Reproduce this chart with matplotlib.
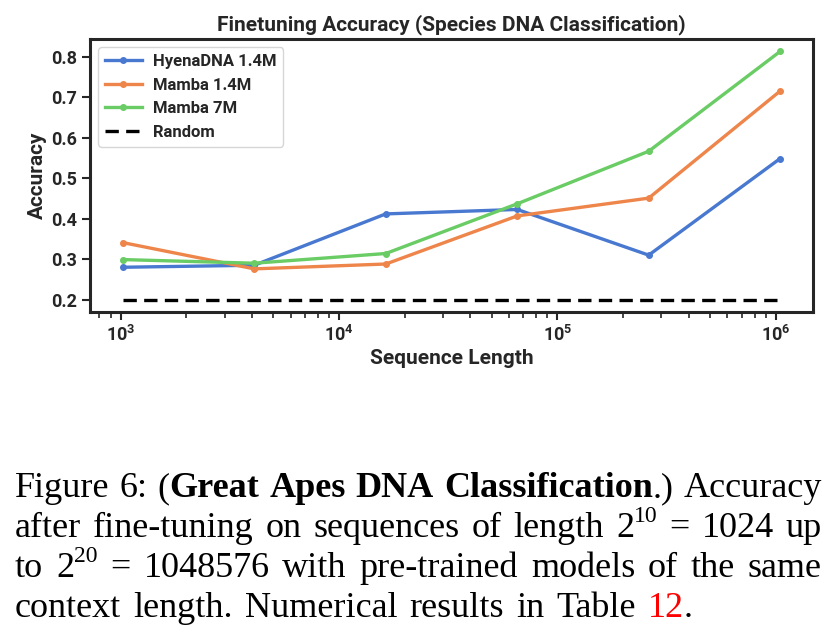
import numpy as np
import matplotlib
matplotlib.use("Agg")
import matplotlib.pyplot as plt

# sequence lengths 2^10 ... 2^20
seq_len = [1024, 4096, 16384, 65536, 262144, 1048576]
hyena_1_4m = [0.280, 0.285, 0.412, 0.423, 0.310, 0.549]
mamba_1_4m = [0.341, 0.276, 0.288, 0.407, 0.451, 0.716]
mamba_7m = [0.299, 0.290, 0.314, 0.437, 0.567, 0.814]
random_acc = [0.2] * len(seq_len)

series_names = ["HyenaDNA 1.4M", "Mamba 1.4M", "Mamba 7M", "Random"]
series_colors = ["#4878d0", "#ee854a", "#6acc64", "black"]

plt.rcParams["font.family"] = ["Roboto", "DejaVu Sans"]
plt.rcParams["font.weight"] = "bold"
plt.rcParams["text.color"] = "#262626"
plt.rcParams["axes.labelcolor"] = "#262626"
plt.rcParams["xtick.color"] = "#262626"
plt.rcParams["ytick.color"] = "#262626"

fig = plt.figure(figsize=(8.4, 6.33), dpi=100)
ax = fig.add_axes([0.1071, 0.5071, 0.8608, 0.4313])

for vals, name, col in zip([hyena_1_4m, mamba_1_4m, mamba_7m], series_names[:3], series_colors[:3]):
    ax.plot(seq_len, vals, color=col, lw=2.4, marker="o", ms=4, label=name)
ax.plot(seq_len, random_acc, color="black", lw=2.4, ls=(0, (4, 2.2)), label=series_names[3])

ax.set_xscale("log")
ax.set_title("Finetuning Accuracy (Species DNA Classification)", fontsize=15, fontweight="bold", pad=6)
ax.set_xlabel("Sequence Length", fontsize=15, fontweight="bold", labelpad=3)
ax.set_ylabel("Accuracy", fontsize=15, fontweight="bold", labelpad=3)
ax.set_yticks([0.2, 0.3, 0.4, 0.5, 0.6, 0.7, 0.8])
ax.tick_params(axis="both", which="major", labelsize=13, width=1.5, length=6, pad=3)
ax.tick_params(axis="x", which="minor", width=1.2, length=4)
for lab in ax.get_xticklabels() + ax.get_yticklabels():
    lab.set_fontweight("bold")
for sp in ax.spines.values():
    sp.set_linewidth(2.2)
    sp.set_color("#262626")

leg = ax.legend(loc="upper left", fontsize=12, frameon=True, fancybox=True,
                framealpha=0.8, edgecolor="#cccccc", handlelength=2.2,
                borderpad=0.4, labelspacing=0.52, borderaxespad=0.5, handletextpad=0.7)
for t in leg.get_texts():
    t.set_fontweight("bold")

# caption below the chart, justified like the paper
cap_font = "Liberation Serif"
cap_size = 26
sup_size = 17
lines = [
    [[("Figure", "n")], [("6:", "n")], [("(", "n"), ("Great", "b")], [("Apes", "b")],
     [("DNA", "b")], [("Classification", "b"), (".)", "n")], [("Accuracy", "n")]],
    [[("after", "n")], [("fine-tuning", "n")], [("on", "n")], [("sequences", "n")], [("of", "n")],
     [("length", "n")], [("2", "n"), ("10", "s")], [("=", "n")], [("1024", "n")], [("up", "n")]],
    [[("to", "n")], [("2", "n"), ("20", "s")], [("=", "n")], [("1048576", "n")], [("with", "n")],
     [("pre-trained", "n")], [("models", "n")], [("of", "n")], [("the", "n")], [("same", "n")]],
    [[("context", "n")], [("length.", "n")], [("Numerical", "n")], [("results", "n")], [("in", "n")],
     [("Table", "n")], [("12", "r"), (".", "n")]],
]
line_y = [0.215, 0.152, 0.089, 0.026]
x_left = 15 / 840
line_right = [822 / 840, 822 / 840, 822 / 840, 693 / 840]

fig.canvas.draw()
renderer = fig.canvas.get_renderer()
fw = fig.bbox.width


def make_run(text, kind, y):
    props = dict(family=cap_font, fontsize=cap_size, color="black", va="baseline", ha="left")
    if kind == "b":
        props["fontweight"] = "bold"
    else:
        props["fontweight"] = "normal"
    if kind == "s":
        props["fontsize"] = sup_size
        y = y + 0.023
    if kind == "r":
        props["color"] = "red"
    t = fig.text(0, y, text, **props)
    w = t.get_window_extent(renderer).width / fw
    return t, w


for tokens, y, x_right in zip(lines, line_y, line_right):
    placed = []
    total = 0
    for tok in tokens:
        runs = []
        tw = 0
        for text, kind in tok:
            t, w = make_run(text, kind, y)
            runs.append((t, w))
            tw += w
        placed.append((runs, tw))
        total += tw
    gap = (x_right - x_left - total) / (len(placed) - 1)
    x = x_left
    for runs, tw in placed:
        for t, w in runs:
            t.set_x(x)
            x += w
        x += gap

fig.savefig("out.png", dpi=100)
